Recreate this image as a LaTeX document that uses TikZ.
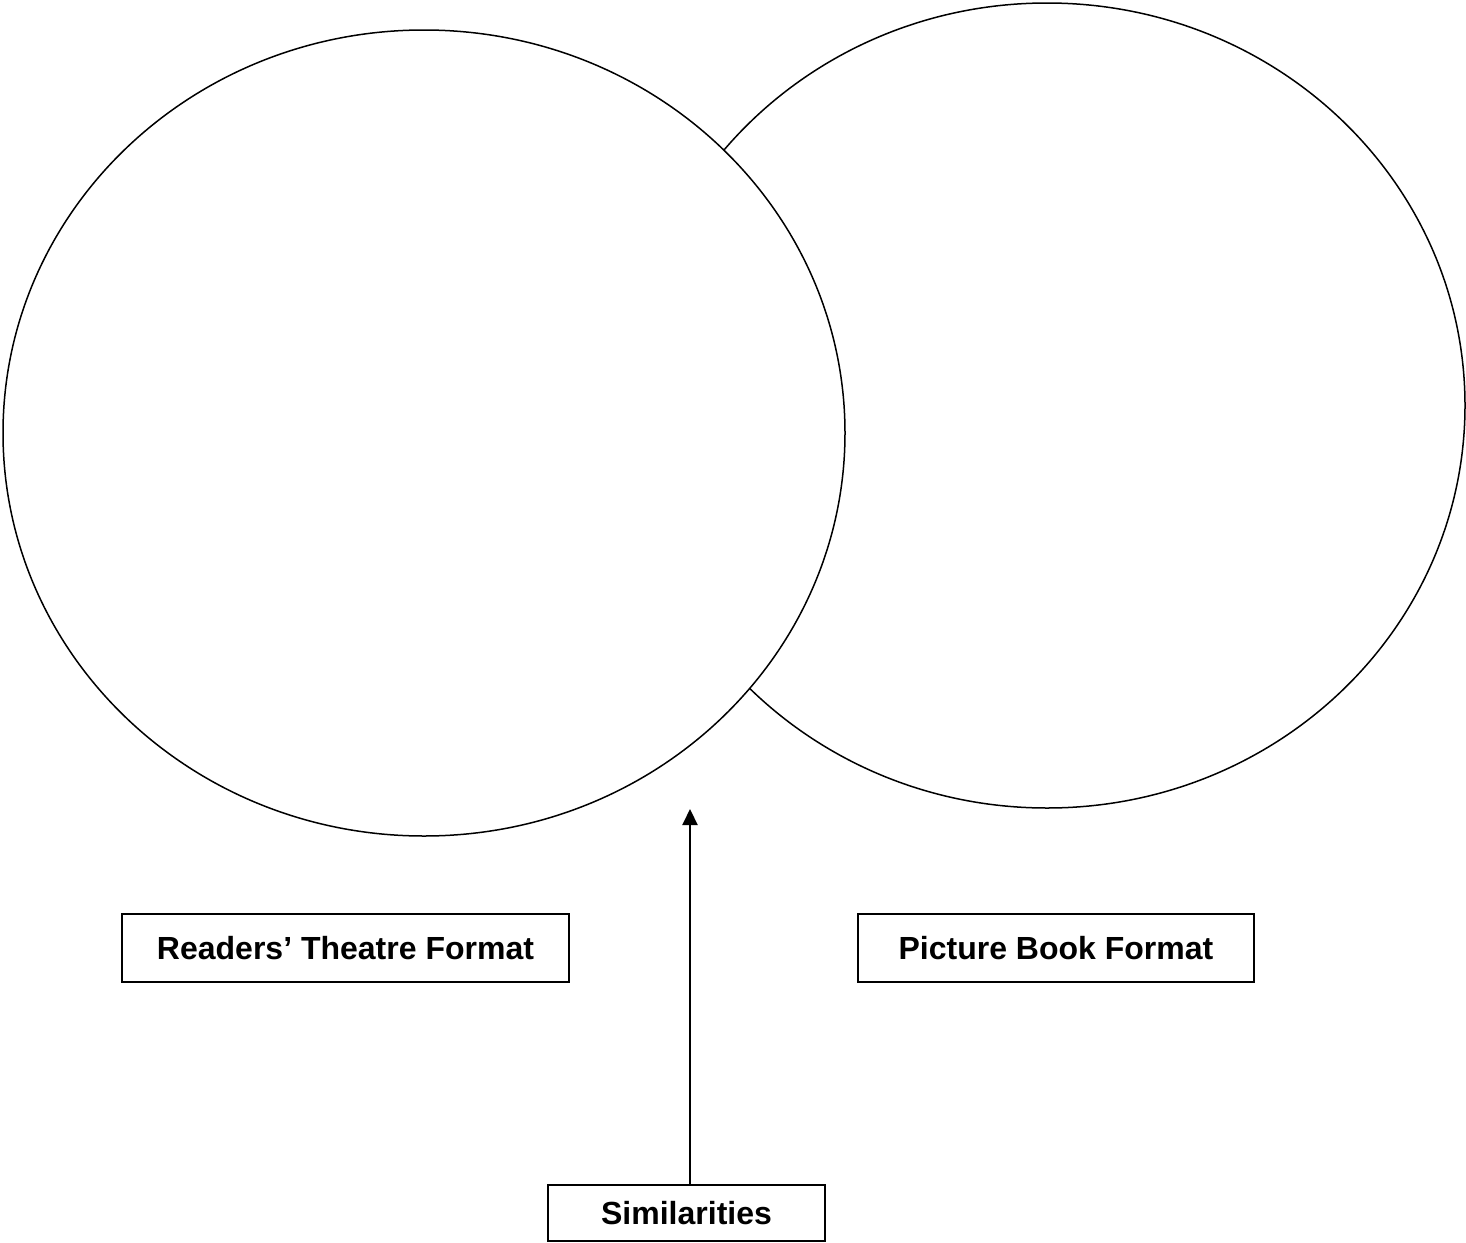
\documentclass[tikz,border=0pt]{standalone}
\usepackage{fontspec}
\setmainfont{Liberation Sans}
\usetikzlibrary{arrows.meta}
\begin{document}
\begin{tikzpicture}[x=1pt,y=-1pt,
  ring/.style={draw=black,line width=1.5pt,fill=white},
  label box/.style={draw=black,line width=1.6pt,fill=white,inner sep=0pt,
    font=\fontsize{32}{36}\selectfont\bfseries,anchor=center},
  pointer/.style={line width=2.2pt,-{Triangle[length=16pt,width=15pt]}}]
\useasboundingbox (0,0) rectangle (1466,1242);
\draw[ring] (1047,405.5) ellipse [x radius=418, y radius=402.5];
\draw[ring] (424,433) ellipse [x radius=421, y radius=403];
\node[label box,minimum width=447pt,minimum height=68pt] (rt) at (345.5,948) {Readers’ Theatre Format};
\node[label box,minimum width=396pt,minimum height=68pt] (pb) at (1056,948) {Picture Book Format};
\node[label box,minimum width=277pt,minimum height=56pt] (sim) at (686.5,1213) {Similarities};
\coordinate (tip) at (690,809);
\draw[pointer] (sim.north -| tip) -- (tip);
\end{tikzpicture}
\end{document}
